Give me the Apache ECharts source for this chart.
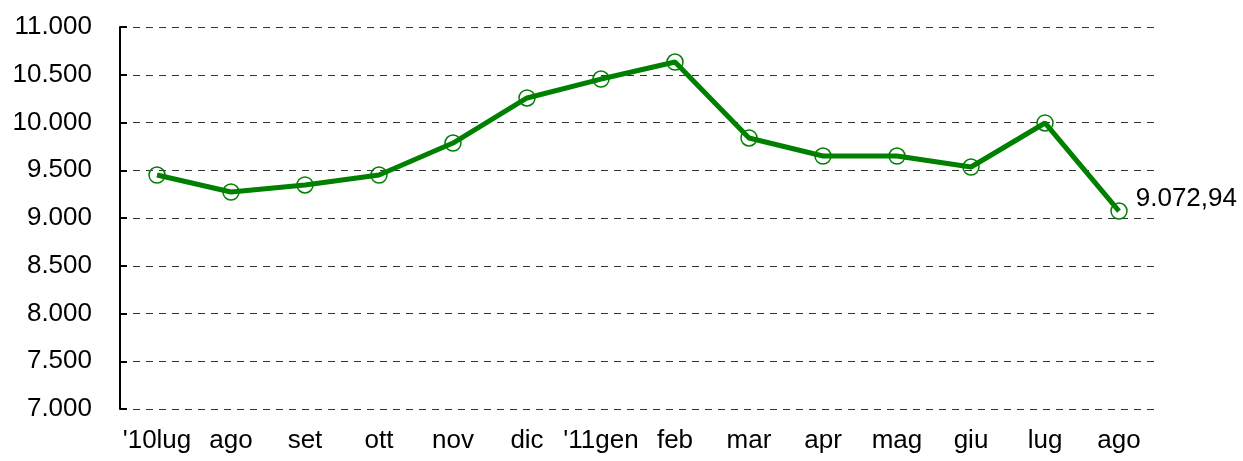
<!DOCTYPE html>
<html>
<head>
<meta charset="utf-8">
<script src="https://cdn.jsdelivr.net/npm/echarts@6/dist/echarts.min.js"></script>
<style>
  html, body { margin: 0; padding: 0; background: #fff; }
  #chart { width: 1243px; height: 461px; }
</style>
</head>
<body>
<div id="chart"></div>
<script>
const months = ["'10lug", "ago", "set", "ott", "nov", "dic", "'11gen", "feb", "mar", "apr", "mag", "giu", "lug", "ago"];
const values = [9450, 9272, 9346, 9450, 9785, 10257, 10455, 10633, 9838, 9649, 9649, 9534, 9995, 9072.94];
const lastLabel = "9.072,94";

// format with italian thousand separator
const fmt = (v) => String(v).replace(/\B(?=(\d{3})+(?!\d))/g, ".");

const chart = echarts.init(document.getElementById("chart"));

chart.setOption({
  animation: false,
  textStyle: { fontFamily: "Liberation Sans, Arial, sans-serif" },
  grid: { left: 120, right: 87, top: 27, bottom: 52 },
  xAxis: {
    type: "category",
    data: months,
    boundaryGap: true,
    axisLine: { show: false },
    axisTick: { show: false },
    axisLabel: { color: "#000", fontSize: 26, margin: 19, interval: 0 },
  },
  yAxis: {
    type: "value",
    min: 7000,
    max: 11000,
    interval: 500,
    axisLine: { show: true, lineStyle: { color: "#000", width: 2 } },
    axisTick: { show: true, inside: true, length: 7, lineStyle: { color: "#000", width: 2 } },
    axisLabel: { color: "#000", fontSize: 26, margin: 28, formatter: fmt },
    splitLine: { show: true, lineStyle: { color: "#333", type: [7, 6], width: 1 } },
  },
  series: [
    {
      type: "line",
      data: values.map((v, i) => ({
        value: v,
        label: i === values.length - 1
          ? { show: true, position: "right", distance: 8, offset: [0, -12], formatter: lastLabel, color: "#000", fontSize: 26 }
          : { show: false },
      })),
      lineStyle: { color: "#008000", width: 5 },
      itemStyle: { color: "rgba(255,255,255,0)", borderColor: "#008000", borderWidth: 1.5 },
      symbol: "circle",
      symbolSize: 16,
      showAllSymbol: true,
      z: 3,
    },
  ],
});
</script>
</body>
</html>
